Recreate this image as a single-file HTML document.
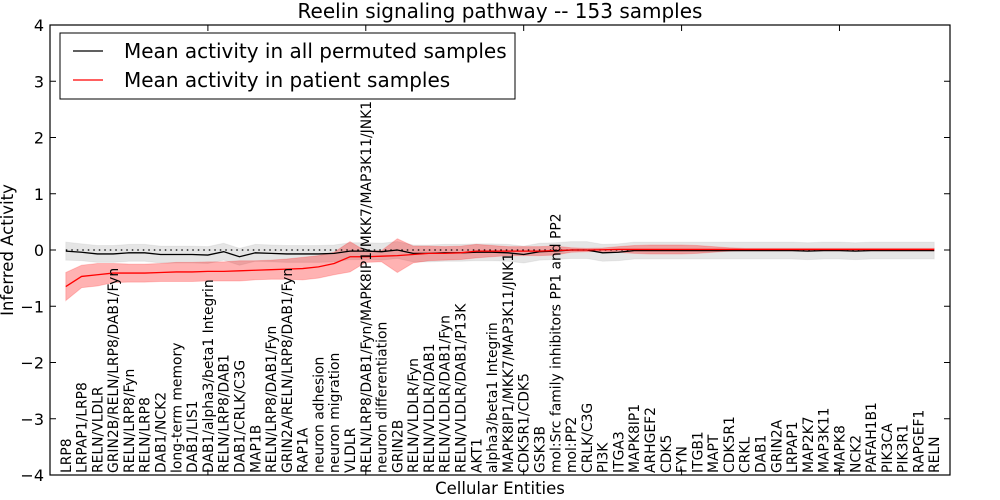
<!DOCTYPE html>
<html><head><meta charset="utf-8"><style>
body{margin:0;background:#fff;}
svg{display:block;font-family:"DejaVu Sans","Liberation Sans",sans-serif;}
</style></head><body>
<svg id="chart" width="1000" height="500">
<text x="500" y="18" font-size="20" text-anchor="middle">Reelin signaling pathway -- 153 samples</text>
<g id="bands"></g>
<g id="lines"></g>
<g id="xlabels"></g>
<rect x="50" y="25" width="900" height="450" fill="none" stroke="#000" stroke-width="1.2"/>
<g id="yaxis"></g>
<g id="xticks"></g>
<text x="500" y="494" font-size="16.5" text-anchor="middle">Cellular Entities</text>
<text transform="translate(13,250) rotate(-90)" font-size="16.5" text-anchor="middle">Inferred Activity</text>
<g>
<rect x="60" y="33" width="455" height="66" fill="#fff" stroke="#000" stroke-width="1"/>
<line x1="73" y1="51" x2="103" y2="51" stroke="#000" stroke-width="1.2"/>
<text x="124" y="58" font-size="20">Mean activity in all permuted samples</text>
<line x1="73" y1="80" x2="103" y2="80" stroke="#f00" stroke-width="1.2"/>
<text x="124" y="87" font-size="20">Mean activity in patient samples</text>
</g>
</svg>
<script>
const categories=["LRP8","LRPAP1/LRP8","RELN/VLDLR","GRIN2B/RELN/LRP8/DAB1/Fyn","RELN/LRP8/Fyn","RELN/LRP8","DAB1/NCK2","long-term memory","DAB1/LIS1","DAB1/alpha3/beta1 Integrin","RELN/LRP8/DAB1","DAB1/CRLK/C3G","MAP1B","RELN/LRP8/DAB1/Fyn","GRIN2A/RELN/LRP8/DAB1/Fyn","RAP1A","neuron adhesion","neuron migration","VLDLR","RELN/LRP8/DAB1/Fyn/MAPK8IP1/MKK7/MAP3K11/JNK1","neuron differentiation","GRIN2B","RELN/VLDLR/Fyn","RELN/VLDLR/DAB1","RELN/VLDLR/DAB1/Fyn","RELN/VLDLR/DAB1/P13K","AKT1","alpha3/beta1 Integrin","MAPK8IP1/MKK7/MAP3K11/JNK1","CDK5R1/CDK5","GSK3B","mol:Src family inhibitors PP1 and PP2","mol:PP2","CRLK/C3G","PI3K","ITGA3","MAPK8IP1","ARHGEF2","CDK5","FYN","ITGB1","MAPT","CDK5R1","CRKL","DAB1","GRIN2A","LRPAP1","MAP2K7","MAP3K11","MAPK8","NCK2","PAFAH1B1","PIK3CA","PIK3R1","RAPGEF1","RELN"];
const patientMean=[-0.65,-0.47,-0.44,-0.41,-0.41,-0.41,-0.40,-0.39,-0.39,-0.38,-0.38,-0.37,-0.36,-0.35,-0.34,-0.33,-0.30,-0.24,-0.12,-0.12,-0.11,-0.10,-0.08,-0.06,-0.06,-0.05,-0.02,-0.02,-0.02,-0.02,-0.02,-0.01,0,0,0.005,0.01,0.01,0.01,0.01,0.01,0.01,0.01,0.01,0.01,0.01,0.01,0.01,0.01,0.01,0.01,0.01,0.01,0.01,0.01,0.01,0.01];
const patientSpread=[0.25,0.2,0.2,0.17,0.16,0.16,0.16,0.17,0.17,0.17,0.17,0.18,0.17,0.17,0.18,0.2,0.2,0.2,0.27,0.1,0.1,0.3,0.15,0.13,0.12,0.12,0.12,0.1,0.08,0.08,0.08,0.08,0.04,0.03,0.03,0.05,0.07,0.08,0.08,0.08,0.07,0.05,0.03,0.02,0.02,0.02,0.02,0.02,0.02,0.02,0.02,0.02,0.02,0.02,0.02,0.02];
const permMean=[-0.02,-0.04,-0.07,-0.07,-0.05,-0.05,-0.08,-0.08,-0.08,-0.09,-0.03,-0.12,-0.05,-0.06,-0.07,-0.07,-0.07,-0.06,-0.02,-0.02,-0.03,0,-0.06,-0.06,-0.05,-0.05,-0.04,-0.04,-0.05,-0.08,-0.03,-0.02,0,0,-0.05,-0.04,-0.01,-0.01,-0.01,-0.01,-0.01,-0.01,-0.01,-0.01,-0.01,-0.01,-0.01,-0.02,-0.01,-0.01,-0.02,-0.01,-0.01,-0.01,-0.01,-0.01];
const permSpread=[0.16,0.15,0.15,0.15,0.15,0.15,0.15,0.15,0.15,0.15,0.15,0.15,0.15,0.15,0.15,0.15,0.15,0.15,0.15,0.15,0.15,0.15,0.15,0.15,0.15,0.15,0.15,0.15,0.15,0.15,0.15,0.15,0.15,0.15,0.15,0.15,0.15,0.15,0.15,0.15,0.15,0.15,0.15,0.15,0.15,0.15,0.15,0.15,0.15,0.15,0.15,0.15,0.15,0.15,0.15,0.15];
const yTicks=[-4,-3,-2,-1,0,1,2,3,4];
const xTicks=[0,10,20,30,40,50];
const NS="http://www.w3.org/2000/svg";
const X=i=>50+i*900/57, Y=v=>250-v*56.25;
function mk(t,a,p){const e=document.createElementNS(NS,t);for(const k in a)e.setAttribute(k,a[k]);p.appendChild(e);return e;}
const bands=document.getElementById('bands'),lines=document.getElementById('lines');
function band(m,s,fill,op,name){let up=m.map((v,i)=>X(i+1)+','+Y(v+s[i])),lo=m.map((v,i)=>X(i+1)+','+Y(v-s[i])).reverse();
const e=mk('polygon',{points:up.concat(lo).join(' '),fill:fill,'fill-opacity':op,stroke:fill,'stroke-opacity':op*0.6},bands);

}
band(permMean,permSpread,'#999',0.25,'permuted-band');
band(patientMean,patientSpread,'#f00',0.3,'patient-band');
const zl=mk('line',{x1:X(1),x2:X(56),y1:Y(0),y2:Y(0),stroke:'#000','stroke-dasharray':'1.5,4','stroke-width':1.2},lines);


function line(m,c,name){const e=mk('polyline',{points:m.map((v,i)=>X(i+1)+','+Y(v)).join(' '),fill:'none',stroke:c,'stroke-width':1.3},lines);

}
line(permMean,'#000','permuted-mean-line');
line(patientMean,'#f00','patient-mean-line');
const ya=document.getElementById('yaxis');
yTicks.forEach(v=>{mk('line',{x1:50,x2:56,y1:Y(v),y2:Y(v),stroke:'#000'},ya);mk('line',{x1:944,x2:950,y1:Y(v),y2:Y(v),stroke:'#000'},ya);
const t=mk('text',{x:44,y:Y(v)+6,'font-size':16,'text-anchor':'end'},ya);t.textContent=(v<0?'\u2212'+(-v):v);

});
const xt=document.getElementById('xticks');
xTicks.forEach(v=>{mk('line',{x1:X(v),x2:X(v),y1:25,y2:31,stroke:'#000'},xt);mk('line',{x1:X(v),x2:X(v),y1:469,y2:475,stroke:'#000'},xt);});
const xl=document.getElementById('xlabels');
categories.forEach((c,i)=>{const x=X(i+1)+5;const t=mk('text',{transform:'translate('+x+',473) rotate(-90)','font-size':13.9},xl);t.textContent=c;

});
</script>
</body></html>
